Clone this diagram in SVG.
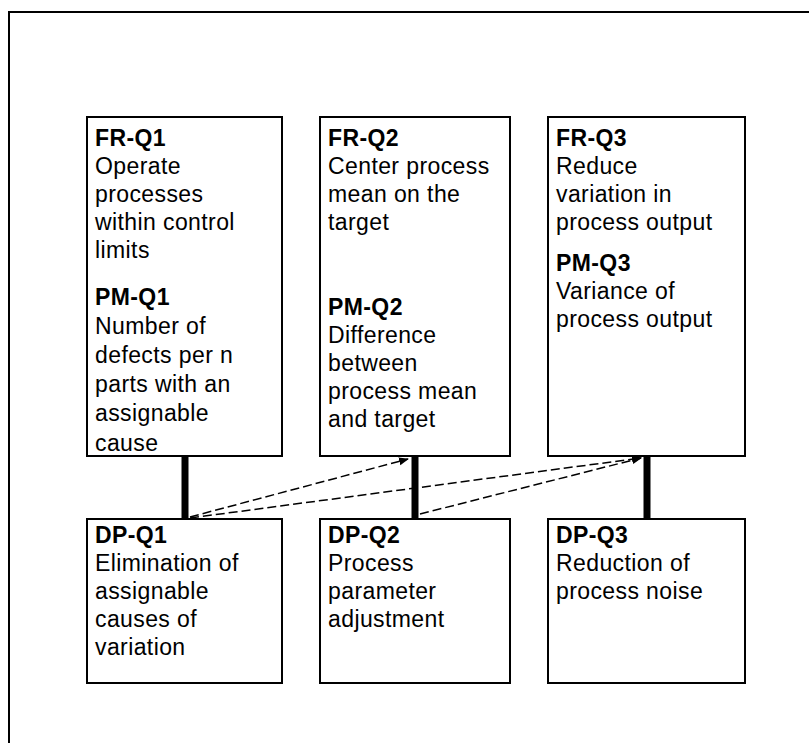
<svg xmlns="http://www.w3.org/2000/svg" width="809" height="743" viewBox="0 0 809 743">
  <defs>
    <marker id="arrow" viewBox="0 0 10 10" refX="9" refY="5" markerWidth="10" markerHeight="10" markerUnits="userSpaceOnUse" orient="auto">
      <path d="M0,1 L10,5 L0,9 Z" fill="#000"/>
    </marker>
  </defs>
  <style>
    .box { fill: #fff; stroke: #000; stroke-width: 2; }
    .txt { font-family: "Liberation Sans", Arial, sans-serif; font-size: 23px; fill: #000; letter-spacing: 0.4px; }
    .hd { font-weight: bold; }
    .link { stroke: #000; stroke-width: 7; }
    .dash { stroke: #000; stroke-width: 1.5; stroke-dasharray: 9 4; fill: none; marker-end: url(#arrow); }
    .frame { stroke: #000; stroke-width: 2; fill: none; }
  </style>

  <rect width="809" height="743" fill="#fff"/>

  <!-- outer frame (open on right and bottom) -->
  <path class="frame" d="M9,743 L9,12 L809,12"/>

  <!-- vertical links between FR and DP boxes, plus dashed couplings -->
  <g id="connectors">
    <line class="link" x1="185" y1="456" x2="185" y2="519"/>
    <line class="link" x1="415" y1="456" x2="415" y2="519"/>
    <line class="link" x1="647" y1="456" x2="647" y2="519"/>
    <line class="dash" x1="190" y1="517" x2="408" y2="459"/>
    <line class="dash" x1="190" y1="518" x2="641" y2="458"/>
    <line class="dash" x1="420" y1="514" x2="641" y2="458"/>
  </g>

  <g id="fr-q1">
    <rect class="box" x="87" y="117" width="195" height="339"/>
    <text class="txt">
      <tspan class="hd" x="95" y="146">FR-Q1</tspan>
      <tspan x="95" y="174">Operate</tspan>
      <tspan x="95" y="202">processes</tspan>
      <tspan x="95" y="230">within control</tspan>
      <tspan x="95" y="258">limits</tspan>
      <tspan class="hd" x="95" y="305">PM-Q1</tspan>
      <tspan x="95" y="334">Number of</tspan>
      <tspan x="95" y="363">defects per n</tspan>
      <tspan x="95" y="392">parts with an</tspan>
      <tspan x="95" y="421">assignable</tspan>
      <tspan x="95" y="451">cause</tspan>
    </text>
  </g>

  <g id="fr-q2">
    <rect class="box" x="320" y="117" width="190" height="339"/>
    <text class="txt">
      <tspan class="hd" x="328" y="146">FR-Q2</tspan>
      <tspan x="328" y="174">Center process</tspan>
      <tspan x="328" y="202">mean on the</tspan>
      <tspan x="328" y="230">target</tspan>
      <tspan class="hd" x="328" y="315">PM-Q2</tspan>
      <tspan x="328" y="343">Difference</tspan>
      <tspan x="328" y="371">between</tspan>
      <tspan x="328" y="399">process mean</tspan>
      <tspan x="328" y="427">and target</tspan>
    </text>
  </g>

  <g id="fr-q3">
    <rect class="box" x="548" y="117" width="197" height="339"/>
    <text class="txt">
      <tspan class="hd" x="556" y="146">FR-Q3</tspan>
      <tspan x="556" y="174">Reduce</tspan>
      <tspan x="556" y="202">variation in</tspan>
      <tspan x="556" y="230">process output</tspan>
      <tspan class="hd" x="556" y="271">PM-Q3</tspan>
      <tspan x="556" y="299">Variance of</tspan>
      <tspan x="556" y="327">process output</tspan>
    </text>
  </g>

  <g id="dp-q1">
    <rect class="box" x="87" y="519" width="195" height="164"/>
    <text class="txt">
      <tspan class="hd" x="95" y="543">DP-Q1</tspan>
      <tspan x="95" y="571">Elimination of</tspan>
      <tspan x="95" y="599">assignable</tspan>
      <tspan x="95" y="627">causes of</tspan>
      <tspan x="95" y="655">variation</tspan>
    </text>
  </g>

  <g id="dp-q2">
    <rect class="box" x="320" y="519" width="190" height="164"/>
    <text class="txt">
      <tspan class="hd" x="328" y="543">DP-Q2</tspan>
      <tspan x="328" y="571">Process</tspan>
      <tspan x="328" y="599">parameter</tspan>
      <tspan x="328" y="627">adjustment</tspan>
    </text>
  </g>

  <g id="dp-q3">
    <rect class="box" x="548" y="519" width="197" height="164"/>
    <text class="txt">
      <tspan class="hd" x="556" y="543">DP-Q3</tspan>
      <tspan x="556" y="571">Reduction of</tspan>
      <tspan x="556" y="599">process noise</tspan>
    </text>
  </g>
</svg>
